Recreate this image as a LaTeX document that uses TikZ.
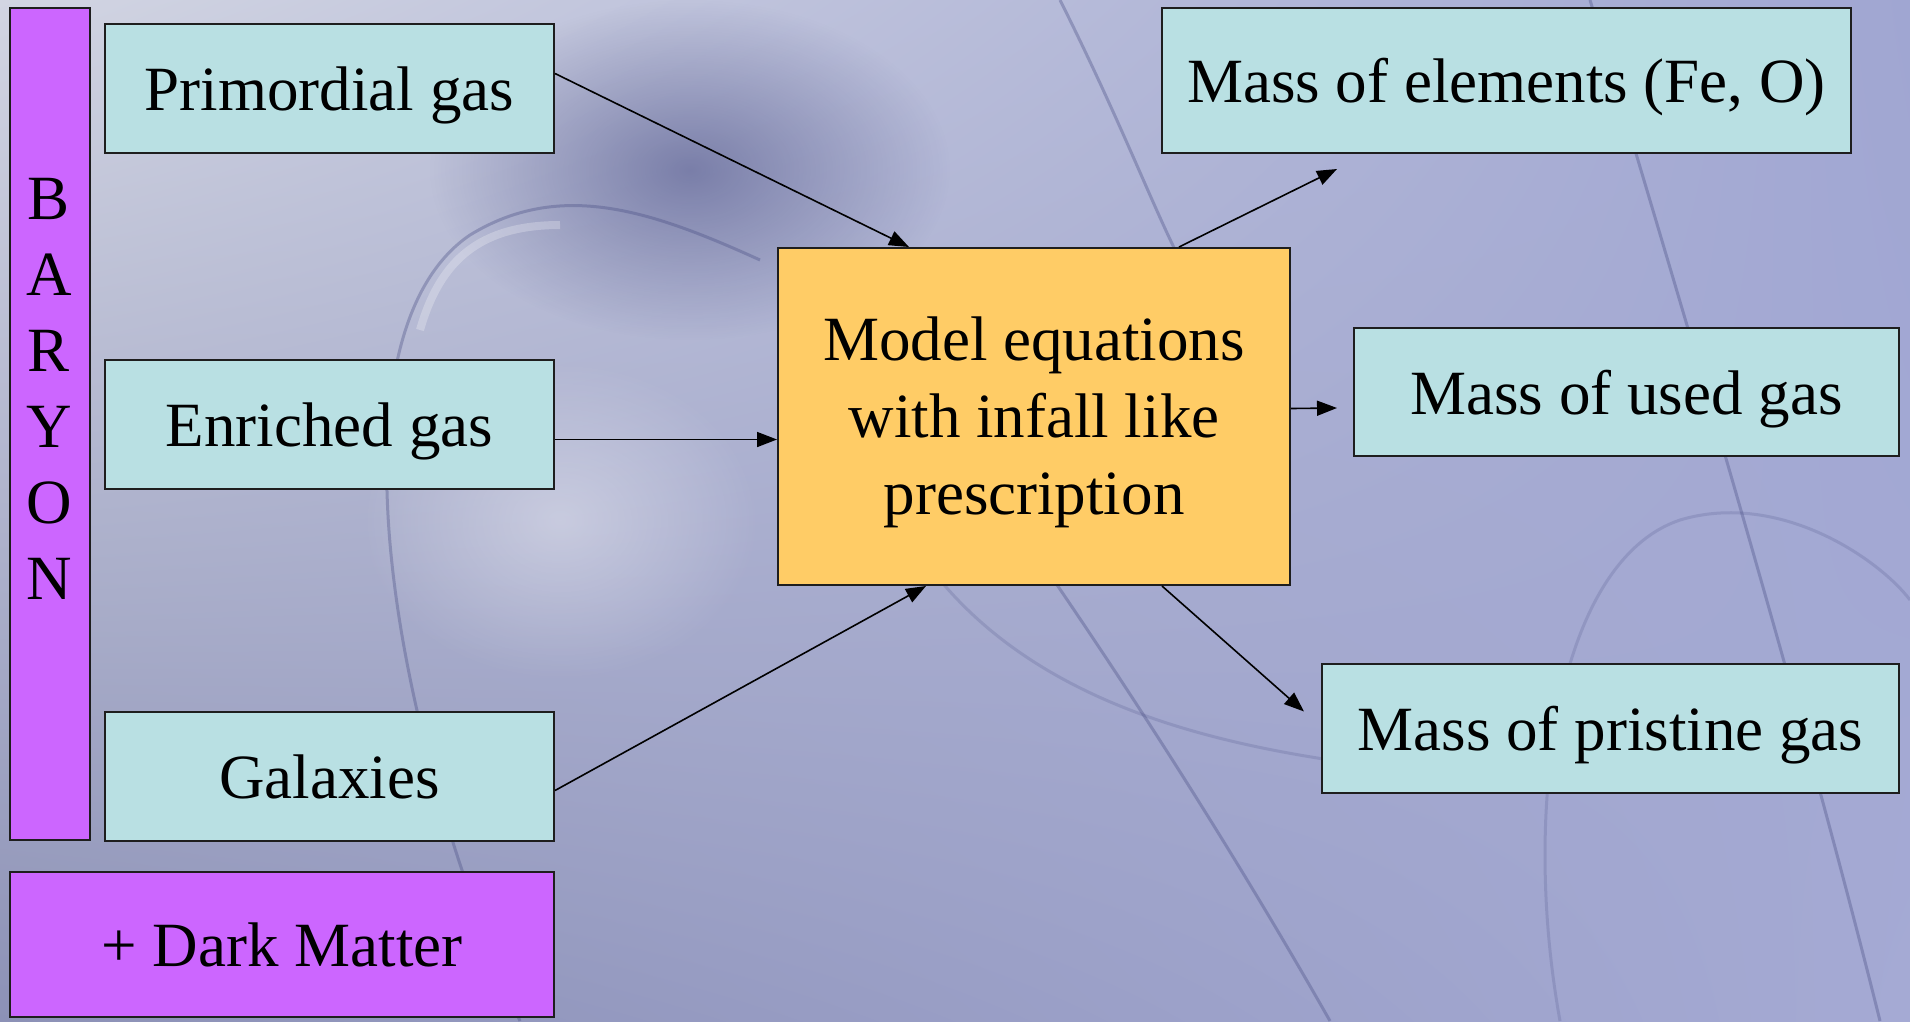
\documentclass[tikz,border=0pt]{standalone}
\usepackage{fontspec}
\setmainfont{Liberation Serif}
\usetikzlibrary{arrows.meta,calc,shadings,fadings}
\tikzfading[name=softblob, inner color=transparent!0, outer color=transparent!100]
\definecolor{cyanbox}{RGB}{185,224,227}
\definecolor{purplebox}{RGB}{204,102,255}
\definecolor{orangebox}{RGB}{255,204,102}
\definecolor{bgA}{RGB}{210,213,226}
\definecolor{bgB}{RGB}{160,166,210}
\definecolor{bgC}{RGB}{140,145,182}
\definecolor{bgD}{RGB}{165,170,212}
\definecolor{swoosh}{RGB}{70,75,130}
\definecolor{edge}{RGB}{30,30,30}
\tikzset{
  box/.style={draw=edge, line width=2pt, anchor=north west, inner sep=0pt,
    align=center, font=\fontsize{63}{77}\selectfont},
  cbox/.style={box, fill=cyanbox, text height=44pt, text depth=0pt},
  pbox/.style={box, fill=purplebox},
  obox/.style={box, fill=orangebox},
  conn/.style={line width=1.6pt, -{Triangle[length=20pt,width=15pt]}},
  bgline/.style={line width=3pt, draw=swoosh, opacity=0.35},
}
\begin{document}
\begin{tikzpicture}[x=1pt,y=-1pt]
\useasboundingbox (0,0) rectangle (1910,1021);
% background
\shade[upper left=bgA, upper right=bgB, lower left=bgC, lower right=bgD] (0,0) rectangle (1910,1021);
\fill[swoosh, opacity=0.55, path fading=softblob] (690,170) ellipse (260pt and 170pt);
\fill[white, opacity=0.35, path fading=softblob] (560,520) ellipse (200pt and 160pt);
\draw[bgline] (520,1021) .. controls (380,700) and (330,330) .. (470,235) .. controls (560,180) and (650,210) .. (760,260);
\draw[line width=8pt, white, opacity=0.25] (420,330) .. controls (440,260) and (480,225) .. (560,225);
\draw[bgline] (1060,0) .. controls (1120,120) and (1150,200) .. (1180,260);
\draw[bgline] (1590,0) .. controls (1680,300) and (1800,700) .. (1880,1021);
\draw[bgline] (1040,560) .. controls (1150,720) and (1250,880) .. (1330,1021);
\draw[bgline, opacity=0.2] (1560,1021) .. controls (1520,800) and (1560,560) .. (1680,520) .. controls (1780,490) and (1880,560) .. (1910,600);
\draw[bgline, opacity=0.2] (940,580) .. controls (1040,700) and (1200,740) .. (1330,760);
% nodes
\node[pbox, minimum width=80pt, minimum height=832pt] (baryon) at (9,7) {};
\node[font=\fontsize{63}{76}\selectfont, align=center, inner sep=0pt] (baryontext) at (49,389) {B\\A\\R\\Y\\O\\N};
\node[cbox, minimum width=449pt, minimum height=129pt] (prim) at (104,23) {Primordial gas};
\node[cbox, minimum width=449pt, minimum height=129pt] (enr) at (104,359) {Enriched gas};
\node[cbox, minimum width=449pt, minimum height=129pt] (gal) at (104,711) {Galaxies};
\node[pbox, minimum width=544pt, minimum height=145pt] (dm) at (9,871) {+ Dark Matter};
\node[obox, minimum width=512pt, minimum height=337pt,
  label={[font=\fontsize{63}{77}\selectfont, align=center, inner sep=0pt, anchor=center, yshift=-6pt]center:Model equations\\ with infall like\\prescription}] (model) at (777,247) {};
\node[cbox, minimum width=689pt, minimum height=145pt] (elem) at (1161,7) {Mass of elements (Fe, O)};
\node[cbox, minimum width=545pt, minimum height=128pt] (used) at (1353,327) {Mass of used gas};
\node[cbox, minimum width=577pt, minimum height=129pt] (prist) at (1321,663) {Mass of pristine gas};
% free ends
\coordinate (elemtip) at ($(elem.south west)+(176,15)$);
\coordinate (usedtip) at ($(used.west)+(-16,16)$);
\coordinate (pristtip) at ($(prist.west)+(-17,-17)$);
% connectors
\draw[conn] ($(prim.east)+(0,-15)$) -- ($(model.north)+(-125,0)$);
\draw[conn] ($(enr.east)+(0,15)$) -- ($(model.west)+(0,23)$);
\draw[conn] ($(gal.east)+(0,14)$) -- ($(model.south)+(-108,0)$);
\draw[conn] ($(model.north)+(145,0)$) -- (elemtip);
\draw[conn] ($(model.east)+(0,-8)$) -- (usedtip);
\draw[conn] ($(model.south)+(128,0)$) -- (pristtip);
\end{tikzpicture}
\end{document}
